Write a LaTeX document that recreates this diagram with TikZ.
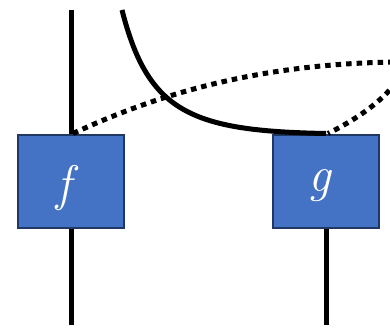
\documentclass[tikz,border=0pt]{standalone}
\begin{document}
\begin{tikzpicture}[x=1pt,y=-1pt,
  box/.style={draw=boxedge,fill=boxfill,line width=2pt,minimum width=106pt,minimum height=93pt,inner sep=0pt,text=white,font=\fontsize{50}{54}\selectfont\itshape},
  wire/.style={line width=5pt},
  dots/.style={line width=5pt,dash pattern=on 5.5pt off 5pt}]
\definecolor{boxfill}{HTML}{4472C4}
\definecolor{boxedge}{HTML}{1F3864}
\useasboundingbox (0,0) rectangle (390,327);
\clip (0,0) rectangle (390,327);
\node[box] (f) at (71,181) {};
\node[box] (g) at (326,181) {};
\node[box,draw=none,fill=none,minimum width=0pt,minimum height=0pt] (flab) at (64,188) {f};
\node[box,draw=none,fill=none,minimum width=0pt,minimum height=0pt] (glab) at (320,186) {g};
\coordinate (ftop) at (71,10);
\coordinate (fbot) at (71,325);
\coordinate (gbot) at (326,325);
\coordinate (cstart) at (122,10);
\draw[wire] (ftop) -- (f.north);
\draw[wire] (f.south) -- (fbot);
\draw[wire] (g.south) -- (gbot);
\draw[dots] ([xshift=2pt]f.north) .. controls (160,93) and (260,64) .. (395,62) .. controls (412,64) and (395,100) .. ([xshift=2pt]g.north);
\draw[wire] (cstart) .. controls (148,112) and (190,131) .. (g.north);
\end{tikzpicture}
\end{document}
